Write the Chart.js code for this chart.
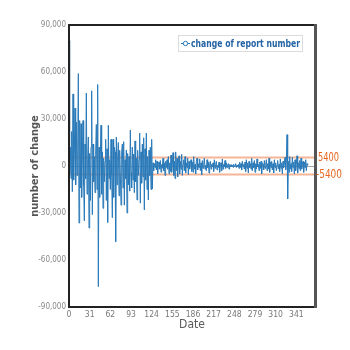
<!DOCTYPE html>
<html>
<head>
<meta charset="utf-8">
<script src="https://cdn.jsdelivr.net/npm/chart.js"></script>
<style>
  html, body { margin: 0; padding: 0; background: #fff; }
  #wrap { width: 350px; height: 350px; }
</style>
</head>
<body>
<div id="wrap"><canvas id="chart" width="350" height="350"></canvas></div>
<script>
// daily change of report number (day 0 .. 358)
var changes = [
  80000, -5000, 12000, -8000, 22000, -16400, 46000, -9000, 8000, 37000,
  -12000, 28000, -6000, 10000, 59000, -36400, 29000, -14000, 27000, -20000,
  6000, 29000, -12000, -35000, 14000, -8000, 46500, -18000, 4000, 18500,
  -39600, 8000, -22000, 12000, 48000, -31000, 14000, -10000, 6000, -17000,
  9000, 26500, -15000, 52000, -77000, 12000, -20000, 7000, 26000, -18000,
  9000, -27000, 5000, -10000, 3000, 17000, -22000, 11000, -36000, 26000,
  -8000, 4000, -15000, 17000, -6000, -33000, 17000, -20000, 12000, 9000,
  -48300, 18500, -12000, 6000, 15000, -19000, 10000, -5000, -25000, 9000,
  14000, -14000, 15500, -25000, 4000, -8000, 10200, -30000, 8000, -12000,
  6000, -16000, 23000, -4000, -14000, 12000, -9000, 7600, -17000, 16000,
  -10000, 5000, -21700, 10000, -6000, 4000, 21000, -23700, 9000, -11000,
  14000, -7000, 18000, -28000, 11000, -9000, 21000, -15000, 6000, -21700,
  10000, -6000, 12000, -15000, 17000, -14700,
  2000, -3000, 1500, -1000, 4000, -2500, 3000, -5000, 1000, 2500,
  -2000, 3500, -4000, 1000, -1500, 5000, -3000, 2000, -6000, 3000,
  -1000, 4000, -2000, 6000, -5000, 2000, -3500, 7000, -4000, 1000,
  8500, -6000, 3000, -8000, 9000, -3000, 5000, -7000, 2000, 6500,
  -5000, 3000, -2000, 7500, -6000, 1000, 4000, -3000, 6000, -4500,
  2000, -1000, 5000, -5500, 3000, -2000, 1500, 4000, -3500, 2500,
  -4000, 6000, -2000, 1000, -5000, 3000, 5000, -2500, 1500, -1000,
  4500, -3000, 2000, -5500, 3500, -1500, 1000, 5000, -2000, 500,
  -3000, 4000, -1000, 2500, -4500, 1500, 3000, -2000, 1000, -500,
  2000, -3500, 4000, -1500, 1000, 3000, -2500, 500, -1000, 2500,
  -4000, 1500, 2000, -3000, 4500, -2000, 1000, -500, 3500, -1500,
  2000, -1000, 500, 1500, -2000, 1000, -500, 800, -300, 500,
  -800, 1200, -600, 300, 1500, -1000, 500, -400, 1000, -1500,
  2500, -1000, 1500, -2500, 3000, -500, 1000, -2000, 2500, -3500,
  4000, -1500, 2000, -4500, 3000, -1000, 1500, -2000, 5000, -3000,
  2000, -1000, 3500, -4000, 1500, -2000, 4500, -500, 1000, -3000,
  2500, -1500, 3000, -5000, 2000, 1000, -2500, 3500, -1500, 500,
  4000, -3000, 1500, -2000, 5000, -4000, 2500, -1000, 3000, -2500,
  1500, -4500, 4000, -1000, 2000, -3000, 500, 3500, -2000, 1000,
  -3500, 4500, -1500, 2000, -5000, 3000, -1000, 1500, 5500, -2500, 3000,
  20000, -21000,
  3000, -4000, 6000, -2000, 1500, -3500, 5500, -1000, 2500, -5000,
  4000, -3000, 1000, 6500, -4500, 2000, -1500, 3500, -3000, 5000,
  -2000, 1000, 3000, -4000, 2500, -1000, 4000, -3000, 1500, 500
];
var thresholds = [5400, -5400];
var xTicks = [0, 31, 62, 93, 124, 155, 186, 217, 248, 279, 310, 341];
var yTicks = [-90000, -60000, -30000, 0, 30000, 60000, 90000];
var xMax = 369;

// condensed face: "condensed" goes in the weight slot of the font string
var fam = "'DejaVu Sans', sans-serif";
var tickFont = { family: fam, size: 8.5, weight: 'normal condensed' };
var blue = '#2a79b8';
var orange = '#e8661e';

var datasets = [{
  label: 'change of report number',
  data: changes.map(function (v, i) { return { x: i, y: v }; }),
  borderColor: blue,
  borderWidth: 1,
  pointRadius: 0,
  tension: 0,
  order: 0
}];
thresholds.forEach(function (t) {
  datasets.push({
    label: String(t),
    data: [{ x: 0, y: t }, { x: xMax, y: t }],
    borderColor: '#f4b598',
    borderWidth: 2,
    pointRadius: 0,
    order: 1
  });
});

// text squeezed to a given width (the original uses a narrow face)
function narrowText(ctx, txt, x, y, w) {
  var m = ctx.measureText(txt).width;
  var s = Math.min(1, w / m);
  ctx.save();
  ctx.translate(x, y);
  ctx.scale(s, 1);
  ctx.fillText(txt, 0, 0);
  ctx.restore();
}

// frame, threshold labels and the legend box
var decor = {
  id: 'decor',
  afterDraw: function (chart) {
    var ctx = chart.ctx, a = chart.chartArea, y = chart.scales.y;
    ctx.save();
    ctx.strokeStyle = '#222';
    ctx.lineWidth = 2;
    ctx.strokeRect(a.left, a.top, a.right - a.left, a.bottom - a.top);
    ctx.strokeStyle = '#555';
    ctx.lineWidth = 3;
    ctx.beginPath();
    ctx.moveTo(a.right + 0.5, a.top - 1);
    ctx.lineTo(a.right + 0.5, a.bottom + 1);
    ctx.stroke();

    ctx.fillStyle = orange;
    ctx.font = "normal condensed 13px " + fam;
    ctx.textBaseline = 'middle';
    ctx.textAlign = 'left';
    thresholds.forEach(function (t) {
      var py = y.getPixelForValue(t);
      if (t < 0) narrowText(ctx, String(t), a.right + 1, py, 26);
      else narrowText(ctx, String(t), a.right + 3, py, 21);
    });

    // legend
    var bx = 178, by = 35, bw = 124, bh = 16;
    ctx.strokeStyle = '#dcdcdc';
    ctx.lineWidth = 1;
    ctx.strokeRect(bx + 0.5, by + 0.5, bw, bh);
    ctx.strokeStyle = blue;
    ctx.beginPath();
    ctx.moveTo(bx + 3, by + 8.5);
    ctx.lineTo(bx + 12, by + 8.5);
    ctx.stroke();
    ctx.fillStyle = '#fff';
    ctx.beginPath();
    ctx.arc(bx + 7.5, by + 8.5, 2.2, 0, Math.PI * 2);
    ctx.fill();
    ctx.stroke();
    ctx.fillStyle = '#2464a4';
    ctx.font = "normal bold condensed 10.5px " + fam;
    narrowText(ctx, chart.data.datasets[0].label, bx + 13, by + 9, 109);
    ctx.restore();
  }
};

new Chart(document.getElementById('chart'), {
  type: 'line',
  data: { datasets: datasets },
  options: {
    responsive: false,
    animation: false,
    layout: { padding: { left: 0, top: 25, right: 35, bottom: 0 } },
    plugins: { legend: { display: false }, tooltip: { enabled: false } },
    scales: {
      x: {
        type: 'linear',
        min: 0,
        max: xMax,
        afterBuildTicks: function (scale) {
          scale.ticks = xTicks.map(function (v) { return { value: v }; });
        },
        afterFit: function (scale) { scale.height = 43; },
        grid: { display: false, drawTicks: false },
        border: { display: false },
        ticks: { color: '#777', font: tickFont, padding: 3, maxRotation: 0, autoSkip: false },
        title: {
          display: true,
          text: 'Date',
          color: '#5a5a5a',
          font: { family: fam, size: 12, weight: 'normal condensed' },
          padding: { top: 0, bottom: 18 }
        }
      },
      y: {
        min: -90000,
        max: 90000,
        afterBuildTicks: function (scale) {
          scale.ticks = yTicks.map(function (v) { return { value: v }; });
        },
        afterFit: function (scale) { scale.width = 69; },
        grid: {
          drawTicks: false,
          color: function (c) { return c.tick && c.tick.value === 0 ? '#a8a8a8' : 'rgba(0,0,0,0)'; }
        },
        border: { display: false },
        ticks: {
          color: '#888',
          font: { family: fam, size: 8, weight: 'normal condensed' },
          padding: 3,
          callback: function (v) { return v.toLocaleString('en-US'); }
        },
        title: {
          display: true,
          text: 'number of change',
          color: '#555',
          font: { family: fam, size: 11, weight: 'bold condensed' },
          padding: { top: 29, bottom: 0 }
        }
      }
    }
  },
  plugins: [decor]
});
</script>
</body>
</html>
